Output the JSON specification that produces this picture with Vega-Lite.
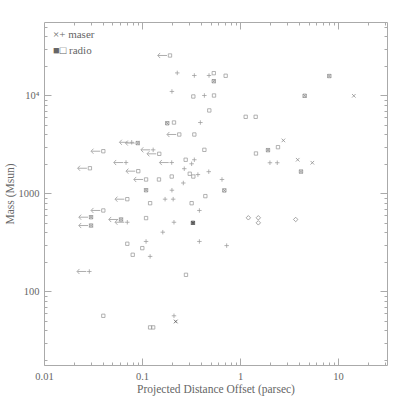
{
  "$schema": "https://vega.github.io/schema/vega-lite/v6.json",
  "width": 343,
  "height": 343,
  "autosize": {"type": "none"},
  "padding": {"left": 44, "top": 22, "right": 22, "bottom": 44},
  "background": "white",
  "config": {
    "view": {"stroke": "#aaa", "strokeWidth": 1},
    "axis": {"labelFont": "Liberation Serif", "titleFont": "Liberation Serif", "labelColor": "#666", "titleColor": "#666", "labelFontSize": 10.5, "titleFontSize": 11.5, "titleFontWeight": "normal", "domainColor": "#aaa", "tickColor": "#aaa", "grid": false},
    "legend": {"labelFont": "Liberation Serif", "labelColor": "#666", "labelFontSize": 11}
  },
  "data": {"values": [
    {"d": 0.193, "m": 25600, "mk": "sq", "type": "radio", "lim": true},
    {"d": 0.229, "m": 17000, "mk": "plus", "type": "maser", "lim": false},
    {"d": 0.342, "m": 16000, "mk": "plus", "type": "maser", "lim": false},
    {"d": 0.483, "m": 16000, "mk": "plus", "type": "maser", "lim": false},
    {"d": 0.54, "m": 16900, "mk": "sq", "type": "radio", "lim": false},
    {"d": 0.54, "m": 14000, "mk": "sqx", "type": "radio", "lim": false},
    {"d": 0.202, "m": 11000, "mk": "plus", "type": "maser", "lim": false},
    {"d": 0.334, "m": 9770, "mk": "sq", "type": "radio", "lim": false},
    {"d": 0.433, "m": 10000, "mk": "plus", "type": "maser", "lim": false},
    {"d": 0.543, "m": 10000, "mk": "sq", "type": "radio", "lim": false},
    {"d": 0.486, "m": 7040, "mk": "sq", "type": "radio", "lim": false},
    {"d": 0.181, "m": 5210, "mk": "sqx", "type": "radio", "lim": false},
    {"d": 0.212, "m": 5300, "mk": "sq", "type": "radio", "lim": false},
    {"d": 0.394, "m": 5300, "mk": "plus", "type": "maser", "lim": false},
    {"d": 0.24, "m": 4000, "mk": "sq", "type": "radio", "lim": true},
    {"d": 0.342, "m": 4000, "mk": "sq", "type": "radio", "lim": false},
    {"d": 0.0785, "m": 3330, "mk": "plus", "type": "maser", "lim": true},
    {"d": 0.0904, "m": 3270, "mk": "sqx", "type": "radio", "lim": true},
    {"d": 0.0403, "m": 2700, "mk": "sq", "type": "radio", "lim": true},
    {"d": 0.13, "m": 2790, "mk": "plus", "type": "maser", "lim": true},
    {"d": 0.15, "m": 2540, "mk": "sq", "type": "radio", "lim": true},
    {"d": 0.433, "m": 2790, "mk": "sq", "type": "radio", "lim": false},
    {"d": 0.0687, "m": 2070, "mk": "plus", "type": "maser", "lim": true},
    {"d": 0.201, "m": 2070, "mk": "plus", "type": "maser", "lim": true},
    {"d": 0.279, "m": 2210, "mk": "sq", "type": "radio", "lim": false},
    {"d": 0.342, "m": 2210, "mk": "plus", "type": "maser", "lim": false},
    {"d": 0.321, "m": 2010, "mk": "plus", "type": "maser", "lim": false},
    {"d": 0.0294, "m": 1810, "mk": "sq", "type": "radio", "lim": true},
    {"d": 0.27, "m": 1790, "mk": "plus", "type": "maser", "lim": false},
    {"d": 0.307, "m": 1590, "mk": "sq", "type": "radio", "lim": false},
    {"d": 0.334, "m": 1490, "mk": "sq", "type": "radio", "lim": false},
    {"d": 0.372, "m": 1560, "mk": "plus", "type": "maser", "lim": false},
    {"d": 0.48, "m": 1670, "mk": "plus", "type": "maser", "lim": false},
    {"d": 0.0916, "m": 1690, "mk": "sq", "type": "radio", "lim": true},
    {"d": 0.11, "m": 1390, "mk": "sq", "type": "radio", "lim": true},
    {"d": 0.149, "m": 1390, "mk": "sq", "type": "radio", "lim": false},
    {"d": 0.201, "m": 1490, "mk": "sq", "type": "radio", "lim": false},
    {"d": 0.264, "m": 1280, "mk": "plus", "type": "maser", "lim": false},
    {"d": 0.11, "m": 1080, "mk": "sqx", "type": "radio", "lim": false},
    {"d": 0.202, "m": 1080, "mk": "plus", "type": "maser", "lim": false},
    {"d": 0.0708, "m": 875, "mk": "sq", "type": "radio", "lim": true},
    {"d": 0.172, "m": 875, "mk": "plus", "type": "maser", "lim": false},
    {"d": 0.208, "m": 875, "mk": "plus", "type": "maser", "lim": false},
    {"d": 0.443, "m": 940, "mk": "sq", "type": "radio", "lim": false},
    {"d": 0.121, "m": 796, "mk": "sq", "type": "radio", "lim": false},
    {"d": 0.321, "m": 796, "mk": "sq", "type": "radio", "lim": false},
    {"d": 0.385, "m": 671, "mk": "plus", "type": "maser", "lim": false},
    {"d": 0.0403, "m": 671, "mk": "sq", "type": "radio", "lim": true},
    {"d": 0.0302, "m": 573, "mk": "sqx", "type": "radio", "lim": true},
    {"d": 0.0302, "m": 471, "mk": "sqx", "type": "radio", "lim": true},
    {"d": 0.0611, "m": 543, "mk": "sqx", "type": "radio", "lim": true},
    {"d": 0.0708, "m": 509, "mk": "plus", "type": "maser", "lim": true},
    {"d": 0.11, "m": 561, "mk": "sq", "type": "radio", "lim": false},
    {"d": 0.212, "m": 509, "mk": "plus", "type": "maser", "lim": false},
    {"d": 0.331, "m": 502, "mk": "sqfill", "type": "radio", "lim": false},
    {"d": 0.163, "m": 403, "mk": "plus", "type": "maser", "lim": false},
    {"d": 0.0708, "m": 307, "mk": "sq", "type": "radio", "lim": false},
    {"d": 0.11, "m": 324, "mk": "plus", "type": "maser", "lim": false},
    {"d": 0.1007, "m": 277, "mk": "sq", "type": "radio", "lim": false},
    {"d": 0.385, "m": 324, "mk": "plus", "type": "maser", "lim": false},
    {"d": 0.0804, "m": 237, "mk": "sq", "type": "radio", "lim": false},
    {"d": 0.121, "m": 228, "mk": "plus", "type": "maser", "lim": false},
    {"d": 0.029, "m": 160, "mk": "plus", "type": "maser", "lim": true},
    {"d": 0.281, "m": 148, "mk": "sq", "type": "radio", "lim": false},
    {"d": 0.0403, "m": 56.5, "mk": "sq", "type": "radio", "lim": false},
    {"d": 0.212, "m": 56.5, "mk": "plus", "type": "maser", "lim": false},
    {"d": 0.221, "m": 49.4, "mk": "xb", "type": "maser", "lim": false},
    {"d": 0.121, "m": 43, "mk": "sq", "type": "radio", "lim": false},
    {"d": 0.13, "m": 43, "mk": "sq", "type": "radio", "lim": false},
    {"d": 0.714, "m": 15900, "mk": "sq", "type": "radio", "lim": false},
    {"d": 8.15, "m": 15800, "mk": "sqx", "type": "radio", "lim": false},
    {"d": 4.57, "m": 9930, "mk": "sqx", "type": "radio", "lim": false},
    {"d": 14.5, "m": 9930, "mk": "x", "type": "maser", "lim": false},
    {"d": 1.143, "m": 6060, "mk": "sq", "type": "radio", "lim": false},
    {"d": 1.445, "m": 6060, "mk": "sq", "type": "radio", "lim": false},
    {"d": 2.77, "m": 3480, "mk": "x", "type": "maser", "lim": false},
    {"d": 1.93, "m": 2770, "mk": "sqx", "type": "radio", "lim": false},
    {"d": 2.44, "m": 2970, "mk": "sq", "type": "radio", "lim": false},
    {"d": 1.455, "m": 2560, "mk": "sq", "type": "radio", "lim": false},
    {"d": 2.02, "m": 2060, "mk": "plus", "type": "maser", "lim": false},
    {"d": 2.4, "m": 2060, "mk": "plus", "type": "maser", "lim": false},
    {"d": 3.88, "m": 2210, "mk": "x", "type": "maser", "lim": false},
    {"d": 5.47, "m": 2060, "mk": "x", "type": "maser", "lim": false},
    {"d": 4.19, "m": 1674, "mk": "sqx", "type": "radio", "lim": false},
    {"d": 0.655, "m": 1390, "mk": "plus", "type": "maser", "lim": false},
    {"d": 0.692, "m": 1075, "mk": "sqx", "type": "radio", "lim": false},
    {"d": 1.217, "m": 565, "mk": "dia", "type": "radio", "lim": false},
    {"d": 1.538, "m": 565, "mk": "dia", "type": "radio", "lim": false},
    {"d": 1.538, "m": 502, "mk": "dia", "type": "radio", "lim": false},
    {"d": 3.7, "m": 543, "mk": "dia", "type": "radio", "lim": false},
    {"d": 0.731, "m": 294, "mk": "plus", "type": "maser", "lim": false}
  ]},
  "layer": [
    {
      "transform": [{"filter": "datum.lim"}],
      "mark": {"type": "rule", "xOffset": -3, "x2Offset": -12, "color": "#999", "strokeWidth": 0.8},
      "encoding": {
        "x": {"field": "d", "type": "quantitative", "scale": {"type": "log", "domain": [0.01, 31.62]}, "axis": null},
        "x2": {"field": "d"},
        "y": {"field": "m", "type": "quantitative", "scale": {"type": "log", "domain": [17.78, 56234]}, "axis": null}
      }
    },
    {
      "transform": [{"filter": "datum.lim"}],
      "mark": {"type": "point", "shape": "M0.45,-1L-0.5,0L0.45,1", "filled": false, "size": 26, "xOffset": -11, "color": "#999", "strokeWidth": 0.8, "opacity": 1},
      "encoding": {
        "x": {"field": "d", "type": "quantitative", "scale": {"type": "log", "domain": [0.01, 31.62]},
          "axis": {"orient": "top", "values": [0.02,0.03,0.04,0.05,0.06,0.07,0.08,0.09,0.1,0.2,0.3,0.4,0.5,0.6,0.7,0.8,0.9,1,2,3,4,5,6,7,8,9,10,20,30], "labels": false, "title": null, "domain": false,
            "tickSize": {"condition": {"test": "datum.value == 0.1 || datum.value == 1 || datum.value == 10", "value": -7}, "value": -3}}},
        "y": {"field": "m", "type": "quantitative", "scale": {"type": "log", "domain": [17.78, 56234]},
          "axis": {"orient": "right", "values": [20,30,40,50,60,70,80,90,100,200,300,400,500,600,700,800,900,1000,2000,3000,4000,5000,6000,7000,8000,9000,10000,20000,30000,40000,50000], "labels": false, "title": null, "domain": false,
            "tickSize": {"condition": {"test": "datum.value == 100 || datum.value == 1000 || datum.value == 10000", "value": -7}, "value": -3}}}
      }
    },
    {
      "mark": {"type": "point", "filled": false, "size": 20, "strokeWidth": 0.75, "opacity": 1},
      "encoding": {
        "x": {"field": "d", "type": "quantitative", "scale": {"type": "log", "domain": [0.01, 31.62]},
          "axis": {"orient": "bottom", "values": [0.01,0.02,0.03,0.04,0.05,0.06,0.07,0.08,0.09,0.1,0.2,0.3,0.4,0.5,0.6,0.7,0.8,0.9,1,2,3,4,5,6,7,8,9,10,20,30],
            "labelExpr": "datum.value == 0.01 ? '0.01' : datum.value == 0.1 ? '0.1' : datum.value == 1 ? '1' : datum.value == 10 ? '10' : ''",
            "title": "Projected Distance Offset (parsec)", "labelPadding": 13, "titlePadding": 2, "domain": false, "labelFlush": false,
            "tickSize": {"condition": {"test": "datum.value == 0.01 || datum.value == 0.1 || datum.value == 1 || datum.value == 10", "value": -7}, "value": -3}}},
        "y": {"field": "m", "type": "quantitative", "scale": {"type": "log", "domain": [17.78, 56234]},
          "axis": {"orient": "left", "values": [20,30,40,50,60,70,80,90,100,200,300,400,500,600,700,800,900,1000,2000,3000,4000,5000,6000,7000,8000,9000,10000,20000,30000,40000,50000],
            "labelExpr": "datum.value == 100 ? '100' : datum.value == 1000 ? '1000' : datum.value == 10000 ? '10⁴' : ''",
            "title": "Mass (Msun)", "labelPadding": 12, "titlePadding": 3, "domain": false, "labelFlush": false,
            "tickSize": {"condition": {"test": "datum.value == 100 || datum.value == 1000 || datum.value == 10000", "value": -7}, "value": -3}}},
        "shape": {"field": "mk", "type": "nominal", "legend": null,
          "scale": {"domain": ["plus", "x", "sq", "sqx", "dia", "sqfill", "xb"],
            "range": ["M-1,0L1,0M0,-1L0,1", "M-0.8,-0.8L0.8,0.8M-0.8,0.8L0.8,-0.8", "M-0.75,-0.75L0.75,-0.75L0.75,0.75L-0.75,0.75Z", "M-0.75,-0.75L0.75,-0.75L0.75,0.75L-0.75,0.75ZM-0.75,-0.75L0.75,0.75M-0.75,0.75L0.75,-0.75", "M0,-1L1,0L0,1L-1,0Z", "M-0.75,-0.75L0.75,-0.75L0.75,0.75L-0.75,0.75ZM-0.75,-0.75L0.75,0.75M-0.75,0.75L0.75,-0.75M0,-0.75L0,0.75M-0.75,0L0.75,0", "M-0.8,-0.8L0.8,0.8M-0.8,0.8L0.8,-0.8"]}},
        "color": {"field": "mk", "type": "nominal", "legend": null,
          "scale": {"domain": ["plus", "x", "sq", "sqx", "dia", "sqfill", "xb"], "range": ["#9a9a9a", "#888", "#9a9a9a", "#888", "#888", "#444", "#444"]}},
        "opacity": {"field": "type", "type": "nominal", "scale": {"domain": ["maser", "radio"], "range": [1, 1]},
          "legend": {"orient": "none", "legendX": -2, "legendY": 7, "title": null, "symbolOpacity": 0, "symbolSize": 0, "symbolStrokeWidth": 0, "labelOffset": 0, "rowPadding": 4,
            "labelExpr": "datum.label == 'maser' ? '×+ maser' : '■□ radio'"}}
      }
    }
  ],
  "resolve": {"axis": {"x": "independent", "y": "independent"}}
}
